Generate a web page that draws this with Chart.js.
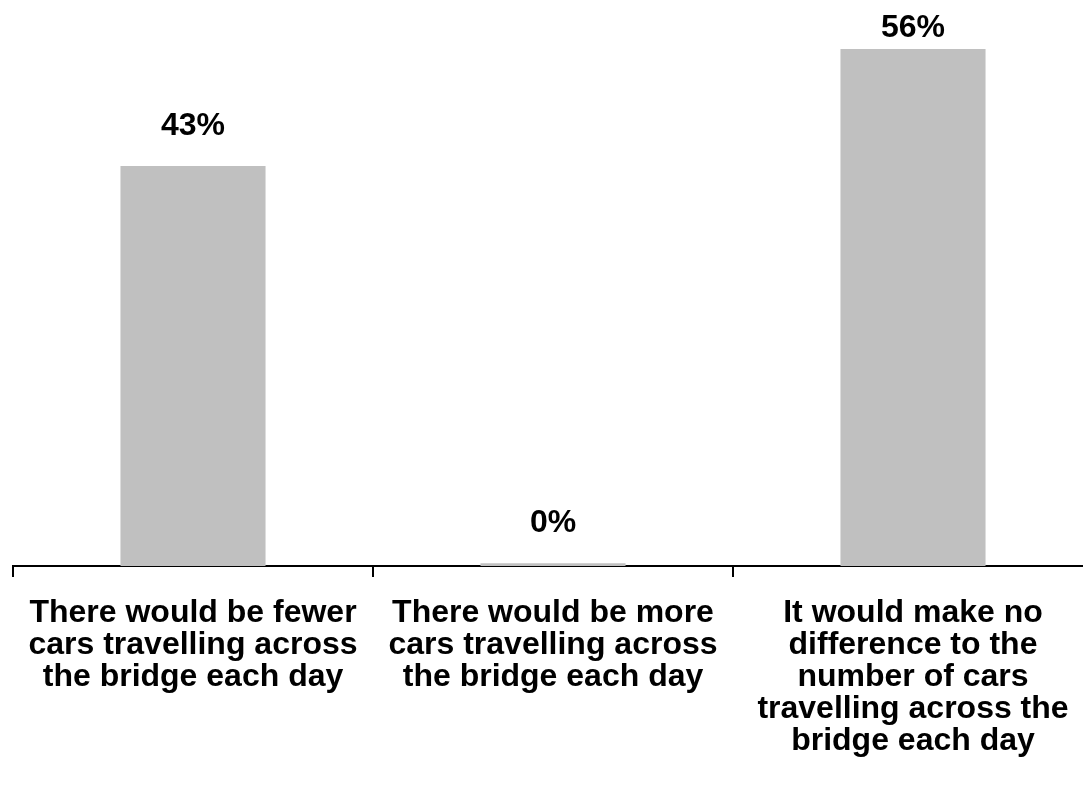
<!DOCTYPE html>
<html>
<head>
<meta charset="utf-8">
<script src="https://cdn.jsdelivr.net/npm/chart.js@4"></script>
<style>
  html, body { margin: 0; padding: 0; background: #fff; overflow: hidden; }
  #wrap { position: relative; width: 1100px; height: 801px; }
</style>
</head>
<body>
<div id="wrap"><canvas id="bridge-chart"></canvas></div>
<script>
const categories = [
  ["There would be fewer", "cars travelling across", "the bridge each day"],
  ["There would be more", "cars travelling across", "the bridge each day"],
  ["It would make no", "difference to the", "number of cars", "travelling across the", "bridge each day"],
];
const shares = [43, 0.3, 55.6];

const FONT = "'Liberation Sans', Arial, sans-serif";

// draws the "43%" style labels over each bar
const valueLabels = {
  id: "valueLabels",
  afterDatasetsDraw(chart) {
    const ctx = chart.ctx;
    const meta = chart.getDatasetMeta(0);
    ctx.save();
    ctx.font = "bold 32px " + FONT;
    ctx.fillStyle = "#000";
    ctx.textAlign = "center";
    ctx.textBaseline = "alphabetic";
    meta.data.forEach((bar, i) => {
      const y = Math.max(bar.y - 31, 37);
      ctx.fillText(Math.round(shares[i]) + "%", bar.x, y);
    });
    ctx.restore();
  },
};

const ctx = document.getElementById("bridge-chart").getContext("2d");
const bridgeChart = new Chart(ctx, {
  type: "bar",
  data: {
    labels: categories,
    datasets: [
      {
        data: shares,
        backgroundColor: "#c0c0c0",
        borderWidth: 0,
        barPercentage: 0.403,
        categoryPercentage: 1,
      },
    ],
  },
  options: {
    responsive: true,
    maintainAspectRatio: false,
    animation: false,
    layout: {
      padding: { top: 8, left: 13, right: 7, bottom: 0 },
    },
    plugins: {
      legend: { display: false },
      tooltip: { enabled: false },
    },
    scales: {
      x: {
        afterFit: (scale) => {
          scale.height = 235;
        },
        border: { color: "#000", width: 2 },
        grid: {
          drawOnChartArea: false,
          color: "#000",
          lineWidth: 2,
          tickLength: 11,
        },
        ticks: {
          color: "#000",
          padding: 20,
          maxRotation: 0,
          autoSkip: false,
          font: { family: FONT, size: 32, weight: "bold", lineHeight: 1.0 },
        },
      },
      y: {
        display: false,
        min: 0,
        max: 60,
      },
    },
  },
  plugins: [valueLabels],
});
</script>
</body>
</html>
